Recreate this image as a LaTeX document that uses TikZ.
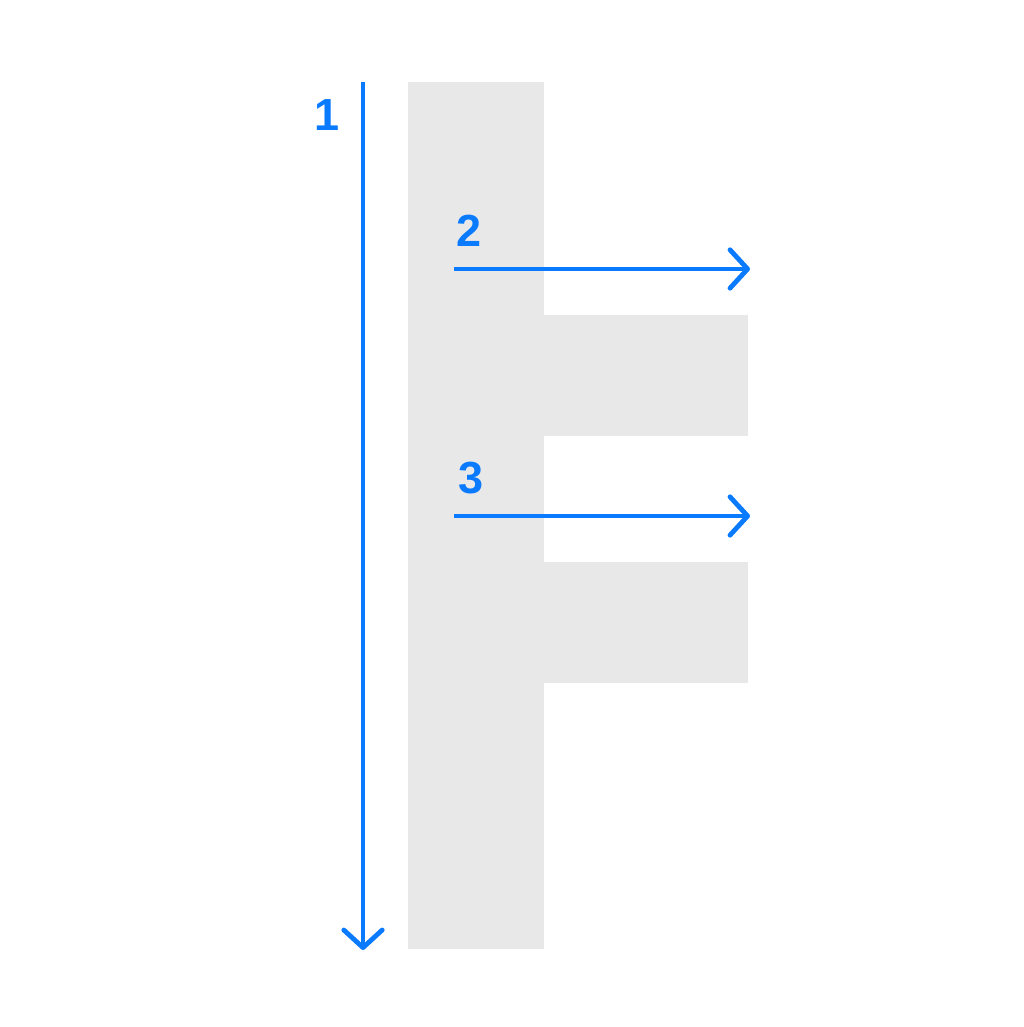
\documentclass[tikz,border=0pt]{standalone}
\usepackage{fontspec}
\setmainfont{Liberation Sans}
\usepackage{tikz}
\usetikzlibrary{arrows.meta}

\begin{document}
\begin{tikzpicture}[x=0.25mm,y=-0.25mm,
  block/.style={fill=black!9,draw=none},
  pass/.style={draw={rgb,255:red,10;green,122;blue,255},line width=1.2mm,
    -{Straight Barb[length=4.4mm,width=9.6mm,line cap=round,round]}},
  num/.style={text={rgb,255:red,10;green,122;blue,255},font=\fontsize{32}{32}\selectfont\bfseries,inner sep=0pt}]
\useasboundingbox (0,0) rectangle (1024,1027);
% the letter: stem and two arms
\fill[block] (408,82) rectangle (544,949);
\foreach \y in {315,562} \fill[block] (544,\y) rectangle (748,\y+121);
% the strokes in order
\coordinate (s1) at (363,82);
\coordinate (e1) at (363,950);
\coordinate (s2) at (454,269);
\coordinate (e2) at (750,269);
\coordinate (s3) at (454,516);
\coordinate (e3) at (750,516);
\draw[pass] (s1) -- (e1);
\draw[pass] (s2) -- (e2);
\draw[pass] (s3) -- (e3);
\node[num] (n1) at (327,115) {1};
\node[num] (n2) at (469,231) {2};
\node[num] (n3) at (471,478) {3};
\end{tikzpicture}
\end{document}
